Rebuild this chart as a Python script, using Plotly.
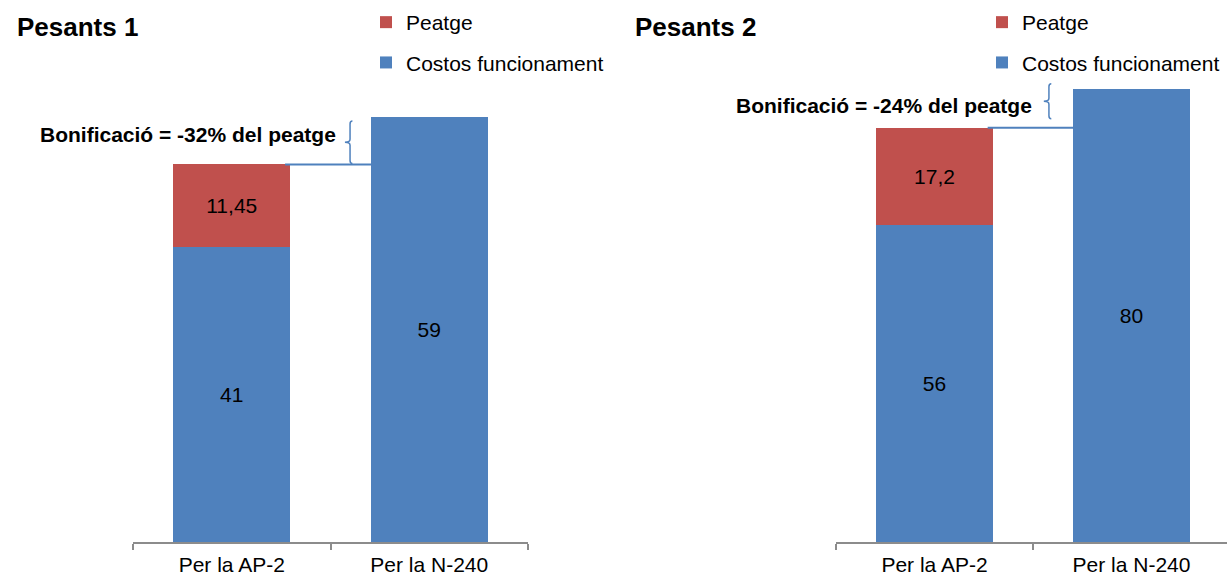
import plotly.graph_objects as go

# ---------------- data ----------------
categories = ["Per la AP-2", "Per la N-240"]
costos_1 = [41, 59]
peatge_1 = [11.45, None]
costos_2 = [56, 80]
peatge_2 = [17.2, None]
titles = ["Pesants 1", "Pesants 2"]
bonificacio = ["Bonificació = -32% del peatge", "Bonificació = -24% del peatge"]
name_costos = "Costos funcionament"
name_peatge = "Peatge"

# ---------------- style ----------------
W, H = 1227, 578
FONT = "Liberation Sans, Arial, sans-serif"
BLUE = "#4F81BD"
RED = "#C0504D"
AXIS_GRAY = "#8C8C8C"
FS = 21


def fmt(v):
    if v is None:
        return ""
    return f"{v:g}".replace(".", ",")


fig = go.Figure()

panels = [
    dict(costos=costos_1, peatge=peatge_1, xa="x", ya="y", legend="legend"),
    dict(costos=costos_2, peatge=peatge_2, xa="x2", ya="y2", legend="legend2"),
]

for p in panels:
    fig.add_trace(go.Bar(
        x=categories, y=p["costos"], name=name_costos,
        marker=dict(color=BLUE, line=dict(width=0)),
        text=[fmt(v) for v in p["costos"]], textposition="inside",
        insidetextanchor="middle", textangle=0,
        textfont=dict(family=FONT, size=FS, color="black"),
        xaxis=p["xa"], yaxis=p["ya"], legend=p["legend"],
        legendgroup=p["legend"] + "c", legendrank=2, hoverinfo="skip",
    ))
    fig.add_trace(go.Bar(
        x=categories, y=p["peatge"], name=name_peatge,
        marker=dict(color=RED, line=dict(width=0)),
        text=[fmt(v) for v in p["peatge"]], textposition="inside",
        insidetextanchor="middle", textangle=0,
        textfont=dict(family=FONT, size=FS, color="black"),
        xaxis=p["xa"], yaxis=p["ya"], legend=p["legend"],
        legendgroup=p["legend"] + "p", legendrank=1, hoverinfo="skip",
    ))

ydom = [36 / H, 1.0]
yranges = [75.3, 95.8]

axis_common = dict(
    type="category", showgrid=False, zeroline=False, showline=True,
    linecolor=AXIS_GRAY, linewidth=2, ticks="outside", tickson="boundaries",
    ticklen=6, tickwidth=2, tickcolor=AXIS_GRAY, automargin=False,
    ticklabelstandoff=3,
    tickfont=dict(family=FONT, size=FS, color="black"),
)
yaxis_common = dict(visible=False, showgrid=False, zeroline=False, automargin=False)

legend_common = dict(
    xanchor="left", yanchor="top", traceorder="grouped", tracegroupgap=10,
    bgcolor="rgba(0,0,0,0)", borderwidth=0, itemwidth=30,
    font=dict(family=FONT, size=FS, color="black"),
)

fig.update_layout(
    width=W, height=H, template="none",
    margin=dict(l=0, r=0, t=0, b=0),
    paper_bgcolor="white", plot_bgcolor="rgba(0,0,0,0)",
    barmode="stack", bargap=0.41,
    font=dict(family=FONT, size=FS, color="black"),
    xaxis=dict(domain=[133 / W, 528 / W], range=[-0.5, 1.5], anchor="y", **axis_common),
    yaxis=dict(domain=ydom, range=[0, yranges[0]], anchor="x", **yaxis_common),
    xaxis2=dict(domain=[836 / W, 1.0], range=[-0.5, 1.485], anchor="y2", **axis_common),
    yaxis2=dict(domain=ydom, range=[0, yranges[1]], anchor="x2", **yaxis_common),
    legend=dict(x=366 / W, y=1 - 2 / H, **legend_common),
    legend2=dict(x=982 / W, y=1 - 2 / H, **legend_common),
)

# titles
for t, xp in zip(titles, [15, 633]):
    fig.add_annotation(text=f"<b>{t}</b>", xref="paper", yref="paper",
                       x=xp / W, y=1 - 27 / H, xanchor="left", yanchor="middle",
                       showarrow=False, font=dict(family=FONT, size=26, color="black"))

# connector lines, braces and "Bonificació" notes
brace_lo_off = [0.15, 1.6]
brace_hi_off = [-0.5, 1.0]
brace_x = [0.599, 0.581]
text_x = [0.538, 0.505]
text_dy = [1.0, -0.7]
for i, p in enumerate(panels):
    xa, ya = p["xa"], p["ya"]
    total_ap2 = p["costos"][0] + (p["peatge"][0] or 0)
    total_n240 = p["costos"][1] + (p["peatge"][1] or 0)
    fig.add_shape(type="line", xref=xa, yref=ya, x0=0.27, x1=0.705,
                  y0=total_ap2, y1=total_ap2, line=dict(color=BLUE, width=2))
    yl = total_ap2 + brace_lo_off[i]
    yh = total_n240 + brace_hi_off[i]
    ym = (yl + yh) / 2
    r = yranges[i] * 3 / 542
    bx = brace_x[i]
    h = 0.012
    tip = bx - 0.026
    path = (f"M {bx + h},{yh} Q {bx},{yh} {bx},{yh - r} L {bx},{ym + r} "
            f"Q {bx},{ym} {tip},{ym} Q {bx},{ym} {bx},{ym - r} "
            f"L {bx},{yl + r} Q {bx},{yl} {bx + h},{yl}")
    fig.add_shape(type="path", xref=xa, yref=ya, path=path,
                  line=dict(color=BLUE, width=1.5))
    fig.add_annotation(text=f"<b>{bonificacio[i]}</b>", xref=xa, yref=ya,
                       x=text_x[i], y=ym + text_dy[i], xanchor="right", yanchor="middle",
                       showarrow=False, font=dict(family=FONT, size=FS, color="black"))

fig.write_html("out.html", config={"displayModeBar": False},
               post_script="document.body.style.margin='0';")
